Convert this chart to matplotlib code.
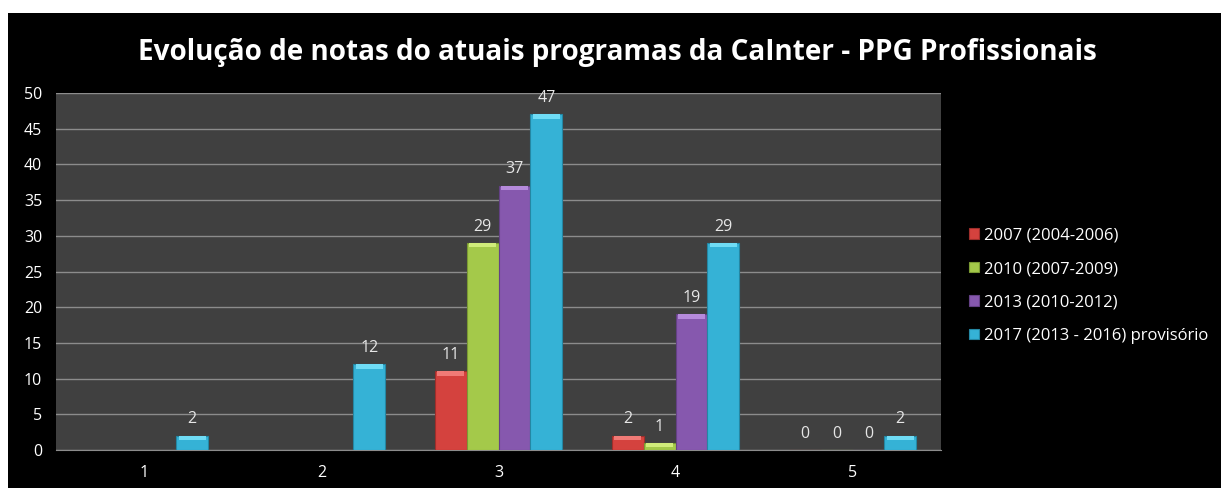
import numpy as np
import matplotlib.pyplot as plt
from matplotlib.patches import Rectangle

plt.rcParams['font.family'] = ['Open Sans', 'DejaVu Sans']

categorias = ['1', '2', '3', '4', '5']
series = ['2007 (2004-2006)', '2010 (2007-2009)', '2013 (2010-2012)',
          '2017 (2013 - 2016) provisório']
v2007 = [np.nan, np.nan, 11, 2, 0]
v2010 = [np.nan, np.nan, 29, 1, 0]
v2013 = [np.nan, np.nan, 37, 19, 0]
v2017 = [2, 12, 47, 29, 2]
valores = [v2007, v2010, v2013, v2017]
cores = ['#D4423E', '#A4C94A', '#8658AE', '#35B2D6']
bordas = ['#9E2E2B', '#7A9A33', '#644185', '#2487A3']
topos = ['#F07A76', '#D0EC7A', '#B58ADB', '#6FDCF5']

fig = plt.figure(figsize=(12.21, 4.88), dpi=100, facecolor='white')
# fundo preto do grafico
fig.patches.append(Rectangle((8/1221, 0), 1 - 8/1221, 1 - 13/488,
                             transform=fig.transFigure, facecolor='black',
                             edgecolor='none', zorder=-10))

ax = fig.add_axes([56/1221, 38/488, 885/1221, 357/488])
ax.set_facecolor('#404040')

x = np.arange(len(categorias))
w = 0.18
cap = 0.6  # altura do brilho no topo da barra
for i, (vals, nome) in enumerate(zip(valores, series)):
    pos = x + (i - 1.5) * w
    bars = ax.bar(pos, vals, w, color=cores[i], edgecolor=bordas[i],
                  linewidth=0.8, label=nome, zorder=3)
    arr = np.array(vals, dtype=float)
    hc = np.minimum(arr, cap)
    ax.bar(pos, hc, w * 0.85, bottom=arr - hc, color=topos[i],
           linewidth=0, zorder=4)
    for b, v in zip(bars, vals):
        if np.isnan(v):
            continue
        ax.annotate(f'{int(v)}', (b.get_x() + b.get_width() / 2, v),
                    xytext=(0, 6), textcoords='offset points',
                    ha='center', va='bottom', color='#E6E6E6', fontsize=11.5)

ax.set_xlim(-0.5, len(categorias) - 0.5)
ax.set_ylim(0, 50)
ax.set_yticks(range(0, 51, 5))
ax.set_xticks(x)
ax.set_xticklabels(categorias)
ax.yaxis.grid(True, color='#8C8C8C', linewidth=1, zorder=0)
ax.set_axisbelow(True)
for s in ['top', 'right', 'left']:
    ax.spines[s].set_visible(False)
ax.spines['bottom'].set_color('#8C8C8C')
ax.tick_params(colors='white', labelsize=11.5, length=0, pad=10)
ax.tick_params(axis='x', pad=11)

fig.text(0.506, 0.893, 'Evolução de notas do atuais programas da CaInter - PPG Profissionais',
         ha='center', va='center', color='white', fontsize=20.1, fontweight='bold')

leg = ax.legend(loc='center left', bbox_to_anchor=(1.015, 0.46), frameon=False,
                fontsize=12, handlelength=0.6, handleheight=0.6,
                handletextpad=0.3, labelspacing=1.05, labelcolor='white')

fig.savefig('out.png', dpi=100, facecolor='white')
